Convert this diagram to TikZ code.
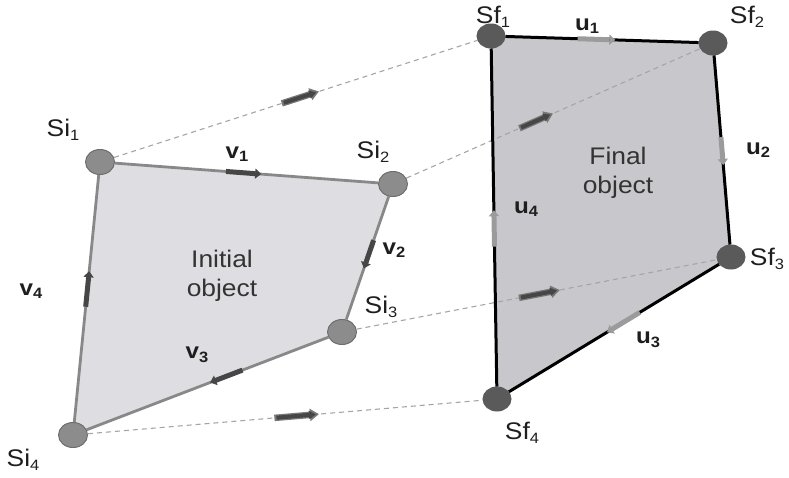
\documentclass[tikz,border=0pt]{standalone}
\usepackage{fontspec}
\setmainfont{Liberation Sans}[FakeStretch=1.1]
\usetikzlibrary{shapes.geometric,arrows.meta,calc}
\pgfdeclarelayer{bg}
\pgfsetlayers{bg,main}
\newcommand{\lowsub}[1]{\raisebox{-0.3ex}{\fontsize{15}{15}\selectfont #1}}
\definecolor{fillL}{RGB}{222,222,226}
\definecolor{fillR}{RGB}{200,200,204}
\definecolor{edgeL}{RGB}{136,136,136}
\definecolor{dotL}{RGB}{140,140,140}
\definecolor{dotLb}{RGB}{110,110,110}
\definecolor{dotR}{RGB}{90,90,90}
\definecolor{dashc}{RGB}{165,165,165}
\definecolor{arrD}{RGB}{70,70,70}
\definecolor{arrO}{RGB}{120,120,120}
\definecolor{arrR}{RGB}{155,155,155}
\definecolor{txt}{RGB}{30,30,30}
\tikzset{
  dotl/.style={ellipse,draw=dotLb,fill=dotL,line width=1pt,minimum width=29pt,minimum height=25pt,inner sep=0pt},
  dotr/.style={ellipse,draw=dotR,fill=dotR,line width=1pt,minimum width=28pt,minimum height=24pt,inner sep=0pt},
  edgel/.style={draw=edgeL,line width=2.8pt},
  edger/.style={draw=black,line width=3pt},
  dashl/.style={draw=dashc,line width=1.1pt,dash pattern=on 5pt off 4pt},
  arrl/.style={draw=arrD,line width=5pt,-{Triangle[length=6pt,width=10pt]}},
  arrr/.style={draw=arrR,line width=5pt,-{Triangle[length=6pt,width=10pt]}},
  arrdo/.style={draw=arrO,line width=6.5pt,-{Triangle[length=9pt,width=12pt]}},
  arrd/.style={draw=arrD,line width=4pt,-{Triangle[length=7pt,width=8pt]}},
  lab/.style={text=txt,inner sep=0pt,font=\fontsize{24}{28}\selectfont},
  blab/.style={text=txt,inner sep=0pt,font=\fontsize{22}{26}\selectfont\bfseries},
  big/.style={text=black!80,inner sep=0pt,align=center,font=\fontsize{24}{29}\selectfont}
}
\begin{document}
\begin{tikzpicture}[x=1pt,y=-1pt]
\useasboundingbox (0,0) rectangle (789,477);
\coordinate (ci1) at (100,162);
\coordinate (ci2) at (393,184);
\coordinate (ci3) at (342,332);
\coordinate (ci4) at (73,435);
\coordinate (cf1) at (491,36);
\coordinate (cf2) at (713,43);
\coordinate (cf3) at (731,257);
\coordinate (cf4) at (497,399);
\begin{pgfonlayer}{bg}
\fill[fillL] (ci1) -- (ci2) -- (ci3) -- (ci4) -- cycle;
\fill[fillR] (cf1) -- (cf2) -- (cf3) -- (cf4) -- cycle;
\end{pgfonlayer}
\node[dotl] (si1) at (ci1) {};
\node[dotl] (si2) at (ci2) {};
\node[dotl] (si3) at (ci3) {};
\node[dotl] (si4) at (ci4) {};
\node[dotr] (sf1) at (cf1) {};
\node[dotr] (sf2) at (cf2) {};
\node[dotr] (sf3) at (cf3) {};
\node[dotr] (sf4) at (cf4) {};
% dashed correspondences
\draw[dashl] (si1) -- (sf1);
\draw[dashl] (si2) -- (sf2);
\draw[dashl] (si3) -- (sf3);
\draw[dashl] (si4) -- (sf4);
% polygon edges
\draw[edgel] (si1) -- (si2);
\draw[edgel] (si2) -- (si3);
\draw[edgel] (si3) -- (si4);
\draw[edgel] (si4) -- (si1);
\draw[edger] (sf1) -- (sf2);
\draw[edger] (sf2) -- (sf3);
\draw[edger] (sf3) -- (sf4);
\draw[edger] (sf4) -- (sf1);
% edge arrows
\draw[arrl] ($(si1)!0.43!(si2)$) -- ($(si1)!0.55!(si2)$);
\draw[arrl] ($(si2)!0.38!(si3)$) -- ($(si2)!0.57!(si3)$);
\draw[arrl] ($(si3)!0.37!(si4)$) -- ($(si3)!0.49!(si4)$);
\draw[arrl] ($(si4)!0.47!(si1)$) -- ($(si4)!0.60!(si1)$);
\draw[arrr] ($(sf1)!0.39!(sf2)$) -- ($(sf1)!0.56!(sf2)$);
\draw[arrr] ($(sf2)!0.44!(sf3)$) -- ($(sf2)!0.57!(sf3)$);
\draw[arrr] ($(sf3)!0.39!(sf4)$) -- ($(sf3)!0.53!(sf4)$);
\draw[arrr] ($(sf4)!0.42!(sf1)$) -- ($(sf4)!0.52!(sf1)$);
% motion arrows (outlined)
\draw[arrdo] ($(si1)!0.465!(sf1)$) -- ($(si1)!0.56!(sf1)$);
\draw[arrd] ($(si1)!0.47!(sf1)$) -- ($(si1)!0.553!(sf1)$);
\draw[arrdo] ($(si2)!0.395!(sf2)$) -- ($(si2)!0.50!(sf2)$);
\draw[arrd] ($(si2)!0.40!(sf2)$) -- ($(si2)!0.492!(sf2)$);
\draw[arrdo] ($(si3)!0.455!(sf3)$) -- ($(si3)!0.56!(sf3)$);
\draw[arrd] ($(si3)!0.46!(sf3)$) -- ($(si3)!0.553!(sf3)$);
\draw[arrdo] ($(si4)!0.475!(sf4)$) -- ($(si4)!0.58!(sf4)$);
\draw[arrd] ($(si4)!0.48!(sf4)$) -- ($(si4)!0.573!(sf4)$);
% labels
\node[lab] (lsi1) at (63,130) {Si\lowsub{1}};
\node[lab] (lsi2) at (373,152) {Si\lowsub{2}};
\node[lab] (lsi3) at (381,307) {Si\lowsub{3}};
\node[lab] (lsi4) at (23,460) {Si\lowsub{4}};
\node[blab] (lv1) at (237,154) {v\lowsub{1}};
\node[blab] (lv2) at (394,250) {v\lowsub{2}};
\node[blab] (lv3) at (197,355) {v\lowsub{3}};
\node[blab] (lv4) at (31,291) {v\lowsub{4}};
\node[big] (init) at (222,276) {Initial\\object};
\node[lab] (lsf1) at (493,17) {Sf\lowsub{1}};
\node[lab] (lsf2) at (747,17) {Sf\lowsub{2}};
\node[lab] (lsf3) at (767,259) {Sf\lowsub{3}};
\node[lab] (lsf4) at (522,433) {Sf\lowsub{4}};
\node[blab] (lu1) at (587,26) {u\lowsub{1}};
\node[blab] (lu2) at (758,150) {u\lowsub{2}};
\node[blab] (lu3) at (648,340) {u\lowsub{3}};
\node[blab] (lu4) at (526,209) {u\lowsub{4}};
\node[big] (fin) at (618,173) {Final\\object};
\end{tikzpicture}
\end{document}
